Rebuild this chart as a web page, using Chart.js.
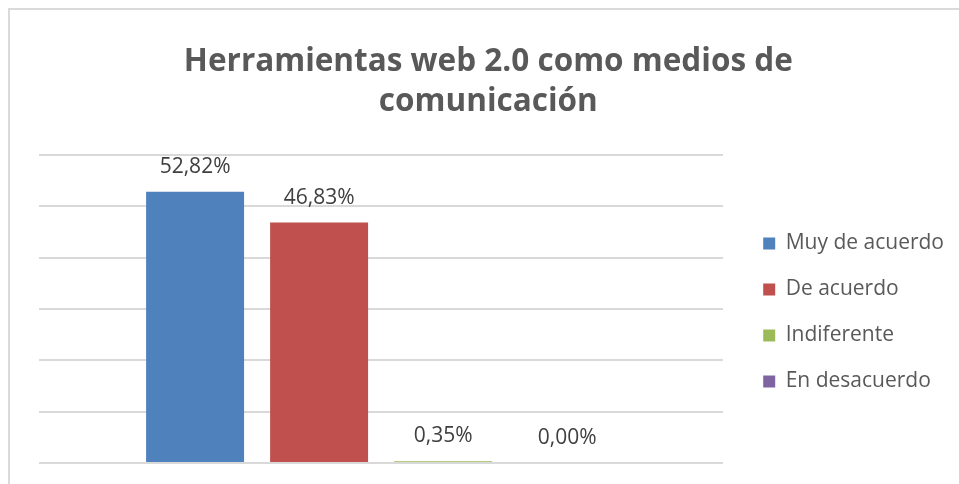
<!DOCTYPE html>
<html lang="es">
<head>
<meta charset="utf-8">
<title>Herramientas web 2.0 como medios de comunicación</title>
<script src="https://cdn.jsdelivr.net/npm/chart.js@4.4.1/dist/chart.umd.min.js"></script>
<style>
    html, body { margin: 0; padding: 0; background: #ffffff; }
    #wrap { position: relative; width: 959px; height: 484px; }
    #frame {
        position: absolute; left: 8px; top: 8px; right: 0; bottom: 0;
        border-top: 2px solid #dadada; border-left: 2px solid #dadada;
    }
    #chart { position: absolute; left: 0; top: 0; }
</style>
</head>
<body>
<div id="wrap">
    <div id="frame"></div>
    <canvas id="chart" width="959" height="484"></canvas>
</div>
<script>
// Data
const categories = ['Herramientas web 2.0'];
const seriesNames = ['Muy de acuerdo', 'De acuerdo', 'Indiferente', 'En desacuerdo'];
const seriesValues = [52.82, 46.83, 0.35, 0.00];
const seriesColors = ['#4f81bd', '#c0504d', '#9bbb59', '#8064a2'];
const yTicks = [0, 10, 20, 30, 40, 50, 60];

const textGray = '#595959';

// Labels like "52,82%" above each bar
const barLabels = {
    id: 'barLabels',
    afterDatasetsDraw(chart) {
        const ctx = chart.ctx;
        ctx.save();
        ctx.font = '21px "Open Sans"';
        ctx.fillStyle = '#404040';
        ctx.textAlign = 'center';
        ctx.textBaseline = 'middle';
        chart.data.datasets.forEach(function(ds, i) {
            const meta = chart.getDatasetMeta(i);
            meta.data.forEach(function(bar, j) {
                const txt = ds.data[j].toFixed(2).replace('.', ',') + '%';
                ctx.fillText(txt, bar.x, bar.y - 25);
            });
        });
        ctx.restore();
    }
};

const datasets = seriesNames.map(function(name, i) {
    return {
        label: name,
        data: [seriesValues[i]],
        backgroundColor: seriesColors[i],
        borderWidth: 0,
        categoryPercentage: 0.725,
        barPercentage: 0.79
    };
});

new Chart(document.getElementById('chart'), {
    type: 'bar',
    data: { labels: categories, datasets: datasets },
    options: {
        responsive: false,
        animation: false,
        layout: { padding: { top: 42, left: 39, right: 5, bottom: 21 } },
        plugins: {
            title: {
                display: true,
                // trailing spaces nudge the centred title a bit to the left
                text: ['Herramientas web 2.0 como medios de  ', 'comunicación  '],
                color: textGray,
                font: { family: '"Open Sans"', size: 31.5, weight: 'bold', lineHeight: 1.27 },
                padding: { top: 0, bottom: 33 }
            },
            legend: {
                position: 'right',
                // empty title only pushes the items down
                title: {
                    display: true,
                    text: ' ',
                    font: { size: 10, lineHeight: 1 },
                    padding: { top: 110, bottom: 0 }
                },
                labels: {
                    color: textGray,
                    font: { family: '"Open Sans"', size: 21 },
                    boxWidth: 12,
                    boxHeight: 12,
                    padding: 25
                }
            },
            tooltip: { enabled: false }
        },
        scales: {
            x: { display: false },
            y: {
                position: 'right',
                min: yTicks[0],
                max: yTicks[yTicks.length - 1],
                afterBuildTicks(scale) {
                    scale.ticks = yTicks.map(function(v) { return { value: v }; });
                },
                afterFit(scale) { scale.width = 15; },
                ticks: { display: false },
                border: { display: false },
                grid: { color: '#d9d9d9', lineWidth: 2, drawTicks: false }
            }
        }
    },
    plugins: [barLabels]
});
</script>
</body>
</html>
